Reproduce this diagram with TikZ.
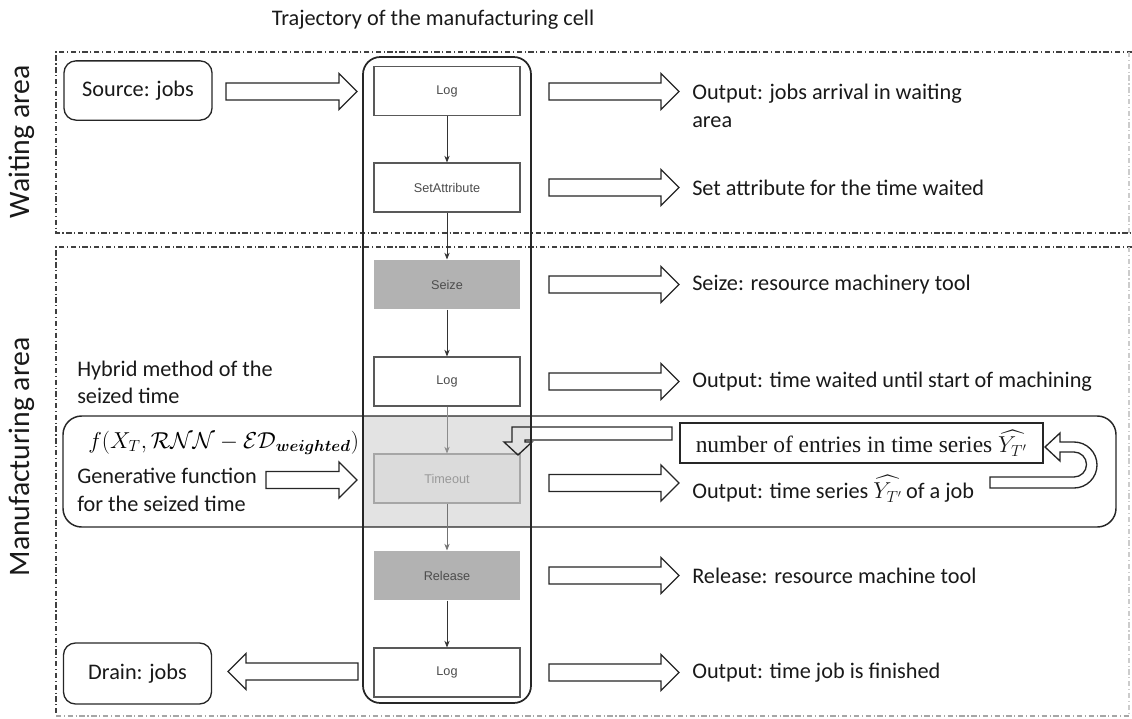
\documentclass[tikz,border=0pt]{standalone}
\usepackage{amsmath}
\usepackage{bm}
\usepackage{fontspec}
\setsansfont{Carlito}
\newfontfamily\arialfont{Liberation Sans}
\newfontfamily\serifbox{Liberation Serif}
\usetikzlibrary{calc,arrows.meta}

\newcommand{\fatR}[2]{\draw[fatarrow] let \p1=(#1), \p2=(#2) in
  (\x1,\y1+6.4pt) -- (\x2-13.5pt,\y1+6.4pt) -- (\x2-13.5pt,\y1+13.5pt) -- (\x2,\y1)
  -- (\x2-13.5pt,\y1-13.5pt) -- (\x2-13.5pt,\y1-6.4pt) -- (\x1,\y1-6.4pt) -- cycle;}
\newcommand{\fatL}[2]{\draw[fatarrow] let \p1=(#1), \p2=(#2) in
  (\x1,\y1+6.4pt) -- (\x2+13.5pt,\y1+6.4pt) -- (\x2+13.5pt,\y1+13.5pt) -- (\x2,\y1)
  -- (\x2+13.5pt,\y1-13.5pt) -- (\x2+13.5pt,\y1-6.4pt) -- (\x1,\y1-6.4pt) -- cycle;}

\begin{document}
\begin{tikzpicture}[x=0.75pt,y=-0.75pt,
  txt/.style={font=\sffamily\fontsize{16.7}{20.5}\selectfont, text=black!90, inner sep=0pt},
  rot/.style={font=\sffamily\fontsize{22.3}{26}\selectfont, text=black!90, inner sep=0pt, rotate=90},
  lbl/.style={font=\arialfont\fontsize{9.5}{11}\selectfont, text=black!70},
  block/.style={draw=black!65, line width=0.9pt, fill=white, minimum width=109.5pt,
    minimum height=36.75pt, inner sep=0pt, lbl},
  grayblock/.style={block, draw=none, fill=black!30},
  rbox/.style={draw=black!85, line width=1pt, rounded corners=9pt, minimum width=111pt,
    minimum height=44.5pt, inner sep=0pt, txt},
  fatarrow/.style={draw=black!85, line width=1pt, fill=white, line join=miter},
  flow/.style={-{Stealth[length=5pt,width=4pt]}, line width=0.6pt, draw=black!80},
  zone/.style={line width=0.8pt, dash pattern=on 4pt off 2pt on 0.8pt off 2pt, draw=black!75}]
\useasboundingbox (0,0) rectangle (1132,718);

% title
\node[txt] (title) at (433,20) {Trajectory of the manufacturing cell};

% zones
\draw[zone] (1132,52) -- (56,52) -- (56,233) -- (1132,233);
\draw[zone, draw=black!20] (1129,52) -- (1129,233);
\draw[zone] (1132,247) -- (56,247) -- (56,716);
\draw[zone, draw=black!35] (56,716) -- (1132,716);
\draw[zone, draw=black!20] (1129,247) -- (1129,716);
\node[rot] (wa) at (22,142) {Waiting area};
\node[rot] (ma) at (22,457) {Manufacturing area};

% shaded hybrid part of trajectory
\fill[black!11] (363,416) rectangle (531,527);

% trajectory container
\node[draw=black!85, line width=1.3pt, rounded corners=13pt, minimum width=126pt,
  minimum height=484.5pt, inner sep=0pt] (traj) at (447,380) {};

% hybrid box
\node[draw=black!85, line width=1.1pt, rounded corners=14pt, minimum width=789.75pt,
  minimum height=83.25pt, inner sep=0pt] (hyb) at (589.5,471.5) {};

% blocks
\node[block] (log1) at (447,91) {Log};
\node[block] (seta) at (447,187.5) {SetAttribute};
\node[grayblock] (seize) at (447,284.5) {Seize};
\node[block] (log2) at (447,381.5) {Log};
\node[block, fill=black!14, draw=black!35, text=black!40] (tout) at (447,478.5) {Timeout};
\node[grayblock] (rel) at (447,575.5) {Release};
\node[block] (log3) at (447,672.5) {Log};

\draw[flow] (log1) -- (seta);
\draw[flow] (seta) -- (seize);
\draw[flow] (seize) -- (log2);
\draw[flow, draw=black!45] (log2) -- (tout);
\draw[flow, draw=black!55] (tout) -- (rel);
\draw[flow] (rel) -- (log3);

% source / drain
\node[rbox] (src) at (138,90.5) {Source: jobs};
\node[rbox, minimum height=45.75pt] (drn) at (137.5,673.5) {Drain: jobs};
\coordinate (sa) at (226,91.5); \coordinate (sb) at (357,91.5);
\fatR{sa}{sb}
\coordinate (da) at (358,671.5); \coordinate (db) at (228,671.5);
\fatL{da}{db}

% right texts
\node[txt, anchor=west, align=left] (o1) at (692,106) {Output: jobs arrival in waiting\\area};
\node[txt, anchor=west] (o2) at (692,187.5) {Set attribute for the time waited};
\node[txt, anchor=west] (o3) at (692,284.5) {Seize: resource machinery tool};
\node[txt, anchor=west] (o4) at (692,381.5) {Output: time waited until start of machining};
\node[txt, anchor=west] (o5) at (692,489) {Output: time series $\widehat{Y_{T'}}$\,of a job};
\node[txt, anchor=west] (o6) at (692,575.5) {Release: resource machine tool};
\node[txt, anchor=west] (o7) at (692,672.5) {Output: time job is finished};

% right arrows
\foreach \yy/\nm in {91.5/1,187.5/2,284.5/3,381.5/4,483/5,575.5/6,672.5/7}{
  \coordinate (ra\nm) at (549,\yy); \coordinate (rb\nm) at (679,\yy);
  \fatR{ra\nm}{rb\nm}
}

% left texts
\node[txt, anchor=west, align=left] (hm) at (77,382.5) {Hybrid method of the\\seized time};
\node[anchor=west, inner sep=0pt, font=\fontsize{16.7}{20}\selectfont] (fx) at (88,443)
  {$f(X_T, \mathcal{RNN} - \mathcal{ED}_{\bm{weighted}})$};
\node[txt, anchor=west, align=left] (gen) at (77,490) {Generative function\\for the seized time};
\coordinate (ga) at (266,480); \coordinate (gb) at (357,480);
\fatR{ga}{gb}

% number of entries box
\node[draw=black!85, line width=0.8pt, minimum width=272.25pt, minimum height=30pt,
  inner sep=0pt, font=\serifbox\fontsize{17.6}{20}\selectfont, text=black!90] (nbox) at (861.5,443)
  {number of entries in time series $\widehat{Y_{T'}}$};

% feedback bent arrow to Timeout
\draw[fatarrow, fill=none] (672,427) -- (512,427) -- (512,442) -- (504,442) -- (518,455)
  -- (532,442) -- (525,442) -- (525,440) -- (672,440) -- cycle;

% U-turn arrow
\draw[fatarrow] (990,488) -- (1074,488) arc[start angle=90, end angle=-90, radius=23]
  -- (1060,442) -- (1060,433) -- (1045,447) -- (1060,461) -- (1060,452) -- (1074,452)
  arc[start angle=-90, end angle=90, radius=12.5] -- (990,477) -- cycle;
\end{tikzpicture}
\end{document}
